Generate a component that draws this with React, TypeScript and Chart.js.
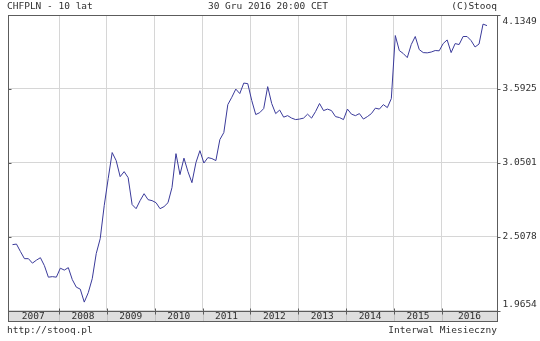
import React, { useEffect, useRef } from "react";
import { Chart, registerables } from "chart.js";

Chart.register(...registerables);

// Monthly closes, Jan 2007 .. Dec 2016 (CHF/PLN)
const values2007 = [2.449, 2.453, 2.398, 2.346, 2.346, 2.313, 2.335, 2.353, 2.295, 2.21, 2.214, 2.21];
const values2008 = [2.276, 2.262, 2.28, 2.192, 2.137, 2.122, 2.027, 2.096, 2.199, 2.383, 2.493, 2.735];
const values2009 = [2.934, 3.125, 3.066, 2.948, 2.985, 2.941, 2.743, 2.713, 2.772, 2.823, 2.779, 2.772];
const values2010 = [2.757, 2.713, 2.728, 2.757, 2.868, 3.117, 2.963, 3.084, 2.985, 2.904, 3.051, 3.139];
const values2011 = [3.048, 3.088, 3.081, 3.066, 3.22, 3.272, 3.477, 3.531, 3.591, 3.558, 3.635, 3.631];
const values2012 = [3.507, 3.404, 3.418, 3.448, 3.609, 3.485, 3.411, 3.437, 3.385, 3.396, 3.378, 3.367];
const values2013 = [3.371, 3.378, 3.407, 3.378, 3.426, 3.485, 3.433, 3.444, 3.433, 3.389, 3.382, 3.367];
const values2014 = [3.444, 3.407, 3.396, 3.411, 3.371, 3.389, 3.411, 3.451, 3.444, 3.477, 3.455, 3.521];
const values2015 = [3.984, 3.874, 3.852, 3.822, 3.918, 3.977, 3.881, 3.859, 3.857, 3.863, 3.874, 3.872];
const values2016 = [3.925, 3.952, 3.859, 3.925, 3.918, 3.977, 3.977, 3.947, 3.9, 3.922, 4.068, 4.057];

const years = ["2007", "2008", "2009", "2010", "2011", "2012", "2013", "2014", "2015", "2016"];
const yTickValues = [1.9654, 2.5078, 3.0501, 3.5925, 4.1349];
const yearBoundaries = [11.67, 23.67, 35.67, 47.67, 59.67, 71.67, 83.67, 95.67, 107.67];
const xMin = -1.25;
const xMax = 121.5;

const titleLeft = "CHFPLN - 10 lat";
const titleCenter = "30 Gru 2016 20:00 CET";
const titleRight = "(C)Stooq";
const footerLeft = "http://stooq.pl";
const footerRight = "Interwal Miesieczny";

const allValues = [
  ...values2007, ...values2008, ...values2009, ...values2010, ...values2011,
  ...values2012, ...values2013, ...values2014, ...values2015, ...values2016,
];

const FONT = "9.5px 'DejaVu Sans Mono', monospace";
const TEXT = "#303030";
const FRAME = "#5c5c5c";

const decor = {
  id: "stooqDecor",
  afterDraw(chart: any) {
    const { ctx, chartArea: a, scales } = chart;
    const xs = scales.x;
    const ys = scales.y;
    const L = Math.round(a.left) + 0.5;
    const R = Math.round(a.right) + 0.5;
    const T = Math.round(a.top) + 0.5;
    const B = Math.round(a.bottom) + 0.5;
    const bandB = B + 10;
    ctx.save();
    // band
    ctx.fillStyle = "#dedede";
    ctx.fillRect(L, B, R - L, bandB - B);
    ctx.strokeStyle = "#c4c4c4";
    ctx.lineWidth = 1;
    yearBoundaries.forEach((v) => {
      const x = Math.round(xs.getPixelForValue(v)) + 0.5;
      ctx.beginPath();
      ctx.moveTo(x, B);
      ctx.lineTo(x, bandB);
      ctx.stroke();
    });
    // frame
    ctx.strokeStyle = FRAME;
    ctx.strokeRect(L, T, R - L, B - T);
    ctx.strokeRect(L, B, R - L, bandB - B);
    // tick marks
    ctx.beginPath();
    yTickValues.forEach((v) => {
      const y = Math.round(ys.getPixelForValue(v)) + 0.5;
      ctx.moveTo(L, y);
      ctx.lineTo(L + 3, y);
      ctx.moveTo(R, y);
      ctx.lineTo(R + 3, y);
    });
    yearBoundaries.forEach((v) => {
      const x = Math.round(xs.getPixelForValue(v)) + 0.5;
      ctx.moveTo(x, B);
      ctx.lineTo(x, B - 3);
      ctx.moveTo(x, B);
      ctx.lineTo(x, B + 3);
    });
    ctx.stroke();
    // texts
    ctx.fillStyle = TEXT;
    ctx.font = FONT;
    ctx.textBaseline = "middle";
    // year labels
    ctx.textAlign = "center";
    const edges = [xMin, ...yearBoundaries, xMax];
    years.forEach((yr, i) => {
      const x0 = xs.getPixelForValue(edges[i]);
      const x1 = xs.getPixelForValue(edges[i + 1]);
      ctx.fillText(yr, (x0 + x1) / 2, (B + bandB) / 2 + 0.5);
    });
    // y labels
    ctx.textAlign = "left";
    yTickValues.forEach((v, i) => {
      let y = ys.getPixelForValue(v);
      if (i === yTickValues.length - 1) y += 7;
      else if (i === 0) y -= 6;
      ctx.fillText(v.toFixed(4), R + 5, y);
    });
    // header / footer
    ctx.textAlign = "left";
    ctx.fillText(titleLeft, 7, 7);
    ctx.fillText(footerLeft, 7, 331);
    ctx.textAlign = "center";
    ctx.fillText(titleCenter, 268, 7);
    ctx.textAlign = "right";
    ctx.fillText(titleRight, 497, 7);
    ctx.fillText(footerRight, 497, 331);
    ctx.restore();
  },
};

export default function App() {
  const ref = useRef<HTMLCanvasElement | null>(null);
  useEffect(() => {
    document.body.style.margin = "0";
    document.body.style.background = "#ffffff";
    const canvas = ref.current;
    if (!canvas) return;
    const chart = new Chart(canvas, {
      type: "line",
      data: {
        datasets: [
          {
            data: allValues.map((v, i) => ({ x: i, y: v })),
            borderColor: "#3a3a9a",
            borderWidth: 1,
            pointRadius: 0,
            tension: 0,
            fill: false,
          },
        ],
      },
      options: {
        animation: false,
        responsive: false,
        maintainAspectRatio: false,
        events: [],
        layout: { padding: { left: 7.5, top: 15, right: 43, bottom: 30.5 } },
        plugins: { legend: { display: false }, tooltip: { enabled: false }, title: { display: false } },
        scales: {
          x: {
            type: "linear",
            min: xMin,
            max: xMax,
            border: { display: false },
            grid: { color: "#d6d6d6", lineWidth: 1, drawTicks: false },
            ticks: { display: false },
            afterBuildTicks: (s: any) => {
              s.ticks = yearBoundaries.map((v) => ({ value: v }));
            },
            afterFit: (s: any) => {
              s.height = 0;
            },
          },
          y: {
            type: "linear",
            min: yTickValues[0],
            max: yTickValues[yTickValues.length - 1],
            border: { display: false },
            grid: { color: "#d6d6d6", lineWidth: 1, drawTicks: false },
            ticks: { display: false },
            afterBuildTicks: (s: any) => {
              s.ticks = yTickValues.map((v) => ({ value: v }));
            },
            afterFit: (s: any) => {
              s.width = 0;
            },
          },
        },
      },
      plugins: [decor],
    });
    return () => chart.destroy();
  }, []);
  return <canvas ref={ref} width={540} height={341} style={{ display: "block", width: 540, height: 341 }} />;
}
